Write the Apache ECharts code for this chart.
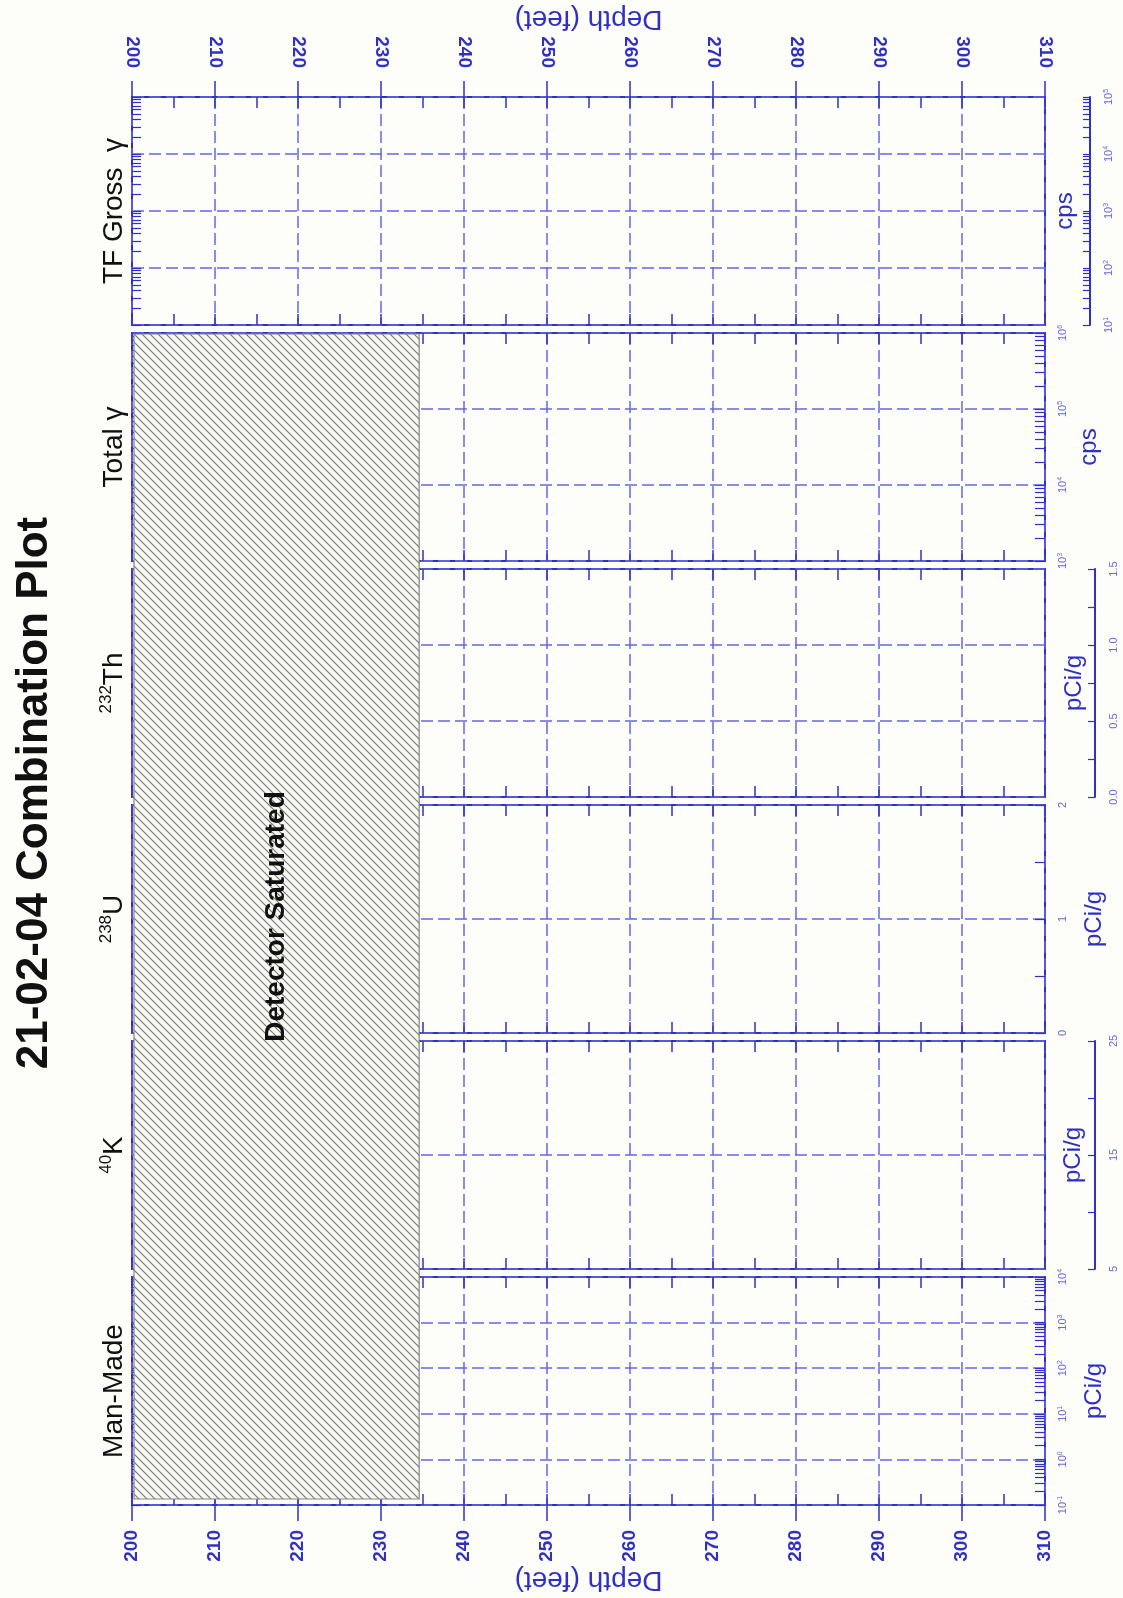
<!DOCTYPE html>
<html>
<head>
<meta charset="utf-8">
<title>21-02-04 Combination Plot</title>
<script src="https://cdn.jsdelivr.net/npm/echarts@6/dist/echarts.min.js"></script>
<style>
  html, body { margin: 0; padding: 0; background: #fdfdf9; }
  #chart { width: 1123px; height: 1598px; }
</style>
</head>
<body>
<div id="chart"></div>
<script>
// ---- data -------------------------------------------------------------
// depth axis, feet
const depthRange = [200, 310];
const depthMajorStep = 10;
const depthMinorStep = 5;

// interval where the detector saturated, feet
const saturatedDepth = [200, 234.6];
const saturatedText = 'Detector Saturated';

// log tracks, top to bottom
const trackTitles = ['TF Gross  γ', 'Total γ', '{sup|232}Th', '{sup|238}U', '{sup|40}K', 'Man-Made'];
const trackUnits = ['cps', 'cps', 'pCi/g', 'pCi/g', 'pCi/g', 'pCi/g'];
const trackIsLog = [true, true, false, false, false, true];
const trackMin = [1e1, 1e3, 0, 0, 5, 1e-1];
const trackMax = [1e5, 1e6, 1.5, 2, 25, 1e4];
const trackGridStep = [null, null, 0.5, 1, 10, null];

// tick values and labelled values of the linear tracks
const thTicks = [0, 0.25, 0.5, 0.75, 1.0, 1.25, 1.5];
const thLabels = [0, 0.5, 1.0, 1.5];
const uTicks = [0, 0.5, 1, 1.5, 2];
const uLabels = [0, 1, 2];
const kTicks = [5, 10, 15, 20, 25];
const kLabels = [5, 15, 25];

// ---- layout & style ---------------------------------------------------
const FONT = "'Liberation Sans', Arial, Helvetica, sans-serif";
const BLUE = '#3030c6';
const GRID_BLUE = '#6666e6';
const LABEL_BLUE = '#6868d8';
const TRACK_LEFT = 132, TRACK_RIGHT = 78, TRACK_H = 228;
const trackTop = [97, 333, 569, 805, 1041, 1277];
// scale bar set apart from the track (offset in px) or on its edge (0)
const barOffset = [45, 0, 50, 0, 50, 0];
const unitGap = [-37, 30, -33, 37, -34, 37];

function decadeValues(lo, hi) {
  const out = [];
  for (let e = Math.round(Math.log10(lo)); e <= Math.round(Math.log10(hi)); e++) out.push(Math.pow(10, e));
  return out;
}
function logTickValues(lo, hi) {
  const out = [];
  const e0 = Math.round(Math.log10(lo)), e1 = Math.round(Math.log10(hi));
  for (let e = e0; e < e1; e++) for (let k = 1; k < 10; k++) out.push(k * Math.pow(10, e));
  out.push(hi);
  return out;
}
const linearTicks = [null, null, thTicks, uTicks, kTicks, null];
const linearLabels = [null, null, thLabels, uLabels, kLabels, null];
const linearFormat = [null, null, v => v.toFixed(1), v => String(v), v => String(v), null];

// diagonal hatch tile
const TILE = 8;
const tile = document.createElement('canvas');
tile.width = TILE; tile.height = TILE;
(function () {
  const c = tile.getContext('2d');
  c.fillStyle = '#f8f8f3';
  c.fillRect(0, 0, TILE, TILE);
  c.strokeStyle = '#767676';
  c.lineWidth = 1.1;
  c.beginPath();
  c.moveTo(-1, -1); c.lineTo(TILE + 1, TILE + 1);
  c.moveTo(-1, TILE - 1); c.lineTo(1, TILE + 1);
  c.moveTo(TILE - 1, -1); c.lineTo(TILE + 1, 1);
  c.stroke();
})();

const supRich = {
  sup: { fontSize: 17, lineHeight: 18, verticalAlign: 'top', fontFamily: FONT, color: '#111' }
};
const expRich = {
  e: { fontSize: 7, lineHeight: 7, verticalAlign: 'top', fontFamily: FONT, color: LABEL_BLUE }
};

const grids = [], xAxes = [], yAxes = [], series = [];

trackTop.forEach((top, i) => {
  grids.push({
    left: TRACK_LEFT, right: TRACK_RIGHT, top: top, height: TRACK_H,
    show: true, borderColor: BLUE, borderWidth: 2, backgroundColor: 'transparent'
  });

  const outer = i === 0 || i === trackTop.length - 1;
  // depth grid lines (and outer depth scale on first/last track)
  xAxes.push({
    gridIndex: i, type: 'value', min: depthRange[0], max: depthRange[1], interval: depthMajorStep,
    position: i === 0 ? 'top' : 'bottom',
    axisLine: { show: false, onZero: false },
    axisTick: { show: outer, inside: false, length: 16, lineStyle: { color: BLUE, width: 1.5 } },
    axisLabel: {
      show: outer, rotate: 90, margin: i === 0 ? 29 : 25,
      fontSize: 19, fontWeight: 'bold', color: BLUE, fontFamily: FONT
    },
    splitLine: { show: true, lineStyle: { color: GRID_BLUE, type: [12, 5], width: 1.5 } },
    name: outer ? 'Depth (feet)' : '', nameLocation: 'middle', nameRotate: 180, nameGap: 58,
    nameTextStyle: { fontSize: 28, color: BLUE, fontFamily: FONT }
  });
  // short depth ticks on both edges
  ['bottom', 'top'].forEach(pos => {
    xAxes.push({
      gridIndex: i, type: 'value', min: depthRange[0], max: depthRange[1], interval: depthMinorStep,
      position: pos,
      axisLine: { show: false, onZero: false },
      axisTick: { show: true, inside: true, length: 11, lineStyle: { color: BLUE, width: 1.5 } },
      axisLabel: { show: false },
      splitLine: { show: false }
    });
  });

  const isLog = trackIsLog[i];
  const lo = trackMin[i], hi = trackMax[i];
  // value grid lines + track title
  yAxes.push({
    gridIndex: i, type: isLog ? 'log' : 'value', logBase: 10, min: lo, max: hi,
    interval: isLog ? undefined : trackGridStep[i],
    position: 'left',
    axisLine: { show: false, onZero: false },
    axisTick: { show: false },
    axisLabel: { show: false },
    splitLine: { show: true, lineStyle: { color: GRID_BLUE, type: [12, 5], width: 1.5 } },
    name: trackTitles[i], nameLocation: 'middle', nameRotate: 90, nameGap: 2,
    nameTextStyle: { fontSize: 28, lineHeight: 32, color: '#111', fontFamily: FONT, rich: supRich }
  });
  // minor log ticks along the left edge
  if (isLog) {
    yAxes.push({
      gridIndex: i, type: 'log', logBase: 10, min: lo, max: hi, position: 'left',
      axisLine: { show: false, onZero: false },
      axisTick: { show: true, inside: true, length: 9, customValues: logTickValues(lo, hi),
                  lineStyle: { color: BLUE, width: 1.2 } },
      axisLabel: { show: false },
      splitLine: { show: false }
    });
  }
  // scale with values and unit
  const off = barOffset[i];
  yAxes.push({
    gridIndex: i, type: isLog ? 'log' : 'value', logBase: 10, min: lo, max: hi,
    position: 'right', offset: off,
    axisLine: { show: off > 0, onZero: false, lineStyle: { color: BLUE, width: 2 } },
    axisTick: {
      show: true, inside: true, length: off > 0 ? 7 : 10,
      customValues: isLog ? logTickValues(lo, hi) : linearTicks[i],
      lineStyle: { color: BLUE, width: 1.2 }
    },
    axisLabel: {
      show: true, rotate: 90, margin: off > 0 ? 13 : 12,
      customValues: isLog ? decadeValues(lo, hi) : linearLabels[i],
      formatter: isLog ? (v => '10{e|' + Math.round(Math.log10(v)) + '}') : linearFormat[i],
      fontSize: 11, lineHeight: 12, color: LABEL_BLUE, fontFamily: FONT, rich: expRich
    },
    splitLine: { show: false },
    name: trackUnits[i], nameLocation: 'middle', nameRotate: 90,
    nameGap: unitGap[i],
    nameTextStyle: { fontSize: 24, color: BLUE, fontFamily: FONT }
  });
});

// overlay spanning tracks 2-6 for the saturated interval
const ovGrid = grids.length;
grids.push({ left: TRACK_LEFT, right: TRACK_RIGHT, top: 334, height: 1165, show: false });
const ovX = xAxes.length;
xAxes.push({ gridIndex: ovGrid, type: 'value', min: depthRange[0], max: depthRange[1], show: false });
const ovY = yAxes.length;
yAxes.push({ gridIndex: ovGrid, type: 'value', min: 0, max: 1, show: false });

series.push({
  type: 'custom',
  xAxisIndex: ovX, yAxisIndex: ovY,
  data: [[saturatedDepth[0], saturatedDepth[1]]],
  encode: { x: [0, 1] },
  silent: true,
  renderItem: function (params, api) {
    const p0 = api.coord([api.value(0), 1]);
    const p1 = api.coord([api.value(1), 0]);
    const x = p0[0] + 2, y = p0[1];
    const w = p1[0] - x, h = p1[1] - p0[1];
    return {
      type: 'group',
      children: [
        { type: 'rect', shape: { x: x, y: y, width: w, height: h },
          style: { fill: { image: tile, repeat: 'repeat' }, stroke: '#858585', lineWidth: 1.2 } },
        { type: 'text', x: x + w / 2, y: y + h / 2, rotation: Math.PI / 2,
          style: { text: saturatedText, font: 'bold 28px ' + FONT, fill: '#111',
                   align: 'center', verticalAlign: 'middle' } }
      ]
    };
  }
});

const chart = echarts.init(document.getElementById('chart'), null, { renderer: 'canvas' });
chart.setOption({
  backgroundColor: '#fdfdf9',
  animation: false,
  grid: grids,
  xAxis: xAxes,
  yAxis: yAxes,
  series: series,
  graphic: [{
    type: 'text', x: 35, y: 793, rotation: Math.PI / 2,
    style: { text: '21-02-04 Combination Plot', font: 'bold 44px ' + FONT, fill: '#111',
             align: 'center', verticalAlign: 'middle' }
  }]
});
</script>
</body>
</html>
